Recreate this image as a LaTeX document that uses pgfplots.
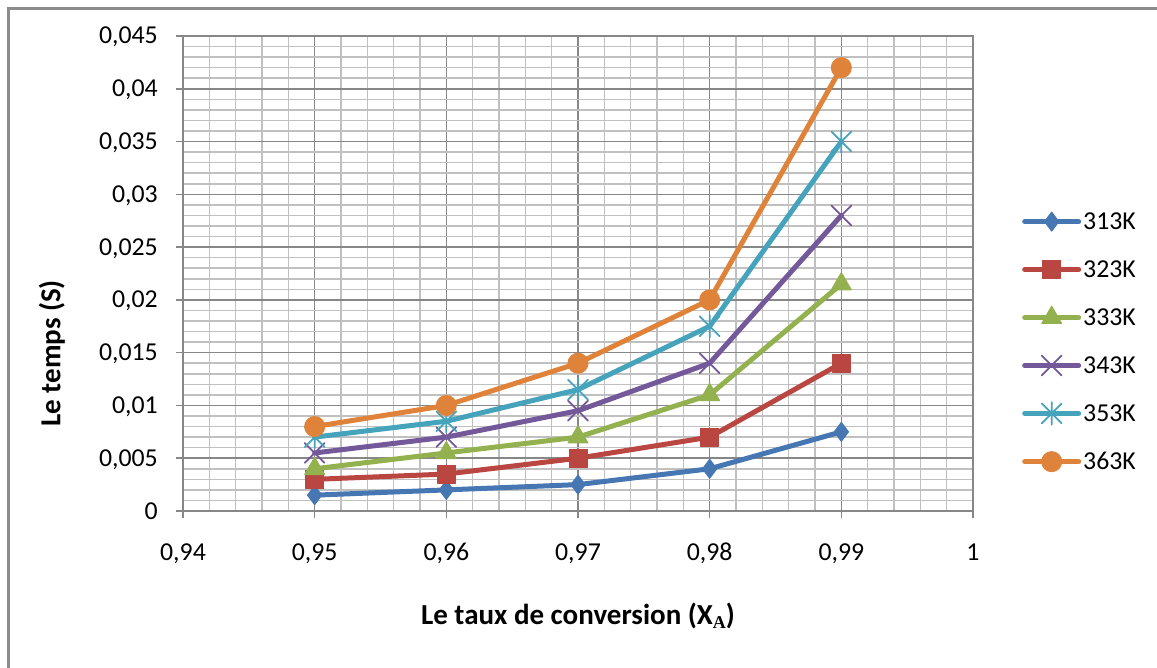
\documentclass[border=0pt]{standalone}
\usepackage{pgfplots}
\pgfplotsset{compat=1.18}
\usepackage{fontspec}
\setmainfont{Carlito}
\newfontfamily\subfont{Liberation Serif}

\definecolor{cA}{HTML}{4677B3}
\definecolor{cB}{HTML}{BA4642}
\definecolor{cC}{HTML}{93B24F}
\definecolor{cD}{HTML}{73589A}
\definecolor{cE}{HTML}{45A3BC}
\definecolor{cF}{HTML}{E0833A}
\definecolor{gridmaj}{HTML}{878787}
\definecolor{gridmin}{HTML}{C0C0C0}
\definecolor{frame}{HTML}{8C8C8C}

% star marker: a cross with a vertical bar
\pgfdeclareplotmark{xstar}{%
  \pgfpathmoveto{\pgfqpoint{-.70710678\pgfplotmarksize}{-.70710678\pgfplotmarksize}}%
  \pgfpathlineto{\pgfqpoint{.70710678\pgfplotmarksize}{.70710678\pgfplotmarksize}}%
  \pgfpathmoveto{\pgfqpoint{-.70710678\pgfplotmarksize}{.70710678\pgfplotmarksize}}%
  \pgfpathlineto{\pgfqpoint{.70710678\pgfplotmarksize}{-.70710678\pgfplotmarksize}}%
  \pgfpathmoveto{\pgfqpoint{0pt}{-.8\pgfplotmarksize}}%
  \pgfpathlineto{\pgfqpoint{0pt}{.8\pgfplotmarksize}}%
  \pgfusepathqstroke}

\newcommand{\tfont}{\fontsize{25.8bp}{30bp}\selectfont}
\newcommand{\lfont}{\fontsize{29bp}{33bp}\selectfont\bfseries}

\begin{document}
\begin{tikzpicture}
\useasboundingbox (0,0) rectangle (1157bp,668bp);
\draw[color=frame, line width=2.5bp] (8.7bp,0) -- (8.7bp,659.3bp) -- (1157bp,659.3bp);
\begin{axis}[
  at={(183bp,157bp)}, anchor=south west,
  scale only axis, width=790bp, height=475bp,
  xmin=0.94, xmax=1, ymin=0, ymax=0.045,
  xtick={0.94,0.95,0.96,0.97,0.98,0.99,1},
  ytick={0,0.005,0.01,0.015,0.02,0.025,0.03,0.035,0.04,0.045},
  minor x tick num=4, minor y tick num=4,
  grid=both,
  major grid style={line width=1.6bp, color=gridmaj},
  minor grid style={line width=1.6bp, color=gridmin},
  axis line style={line width=1.6bp, color=gridmaj},
  major tick style={line width=1.6bp, color=gridmaj},
  minor tick length=0pt, major tick length=7bp,
  tick align=outside, tick pos=left,
  scaled ticks=false,
  /pgf/number format/assume math mode=true,
  tick label style={font=\tfont, inner sep=0pt, text height=16bp, text depth=0pt},
  xticklabel style={anchor=north, yshift=-26bp,
    /pgf/number format/.cd, fixed, precision=2, use comma},
  yticklabel style={anchor=east, xshift=-18bp,
    /pgf/number format/.cd, fixed, precision=3, use comma},
  xlabel={Le taux de conversion (X\raisebox{-4bp}{\fontsize{18bp}{18bp}\selectfont\subfont\bfseries A})},
  ylabel={Le temps (S)},
  label style={font=\lfont},
  xlabel style={at={(axis description cs:0.5,-0.221)}, anchor=center},
  ylabel style={at={(axis description cs:-0.166,0.332)}, anchor=center},
  legend style={draw=none, fill=none, inner sep=0pt, font=\tfont,
    at={(1.062,0.633)}, anchor=north west, row sep=25.6bp,
    legend cell align=left},
  legend image code/.code={%
    \draw[mark repeat=2,mark phase=2] plot coordinates {(0bp,0bp) (27bp,0bp) (54bp,0bp)};},
  every axis plot/.append style={line width=5bp, line join=round, line cap=round},
]
\addplot[color=cA, mark=diamond*, mark size=9.5bp, mark options={solid, line width=1bp}]
  coordinates {(0.95,0.0015) (0.96,0.002) (0.97,0.0025) (0.98,0.004) (0.99,0.0075)};
\addlegendentry{313K}
\addplot[color=cB, mark=square*, mark size=9bp, mark options={solid, line width=1bp}]
  coordinates {(0.95,0.003) (0.96,0.0035) (0.97,0.005) (0.98,0.007) (0.99,0.014)};
\addlegendentry{323K}
\addplot[color=cC, mark=triangle*, mark size=11.5bp, mark options={solid, line width=1bp}]
  coordinates {(0.95,0.004) (0.96,0.0055) (0.97,0.007) (0.98,0.011) (0.99,0.0215)};
\addlegendentry{333K}
\addplot[color=cD, mark=x, mark size=14bp, mark options={solid, line width=1.8bp}]
  coordinates {(0.95,0.0055) (0.96,0.007) (0.97,0.0095) (0.98,0.014) (0.99,0.028)};
\addlegendentry{343K}
\addplot[color=cE, mark=xstar, mark size=14bp, mark options={solid, line width=1.8bp}]
  coordinates {(0.95,0.007) (0.96,0.0085) (0.97,0.0115) (0.98,0.0175) (0.99,0.035)};
\addlegendentry{353K}
\addplot[color=cF, mark=*, mark size=10bp, mark options={solid, line width=1bp}]
  coordinates {(0.95,0.008) (0.96,0.010) (0.97,0.014) (0.98,0.020) (0.99,0.042)};
\addlegendentry{363K}
\end{axis}
\end{tikzpicture}
\end{document}
